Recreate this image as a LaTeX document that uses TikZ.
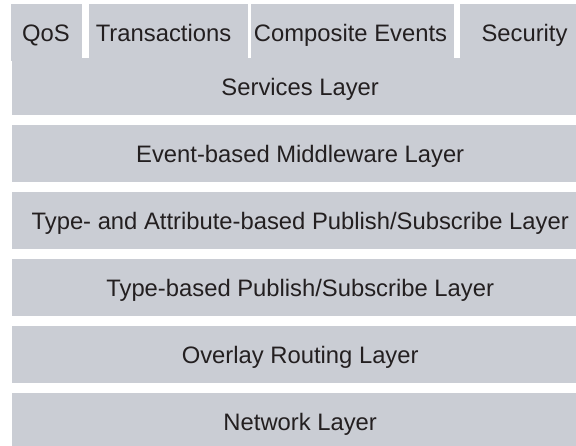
\documentclass[tikz,border=0pt]{standalone}
\usepackage{fontspec}
\setmainfont{Liberation Sans}
\definecolor{layerfill}{RGB}{202,205,212}
\definecolor{ink}{RGB}{35,31,32}
\begin{document}
\begin{tikzpicture}[x=1pt,y=-1pt,
  txt/.style={text=ink, font=\fontsize{23.8}{28}\selectfont},
  layerbox/.style={txt, rectangle, fill=layerfill, draw=none, inner sep=0pt,
    minimum width=576pt, minimum height=57pt, text height=17pt, text depth=0pt,
    anchor=north west},
  tabbox/.style={rectangle, fill=layerfill, draw=none, inner sep=0pt,
    minimum height=57pt, anchor=north west},
  tablabel/.style={txt, inner sep=0pt, anchor=base}]
\useasboundingbox (0,0) rectangle (576,445);
\clip (0,0) rectangle (576,445);
% tabs
\node[tabbox, minimum width=71pt]  (tqos)  at (11,4) {};
\node[tabbox, minimum width=159pt] (ttra)  at (89,4) {};
\node[tabbox, minimum width=203pt] (tcomp) at (251,4) {};
\node[tabbox, minimum width=128pt] (tsec)  at (460,4) {};
\node[tablabel] (lqos)  at (46,41)    {QoS};
\node[tablabel] (ltra)  at (163.5,41) {Transactions};
\node[tablabel] (lcomp) at (350.5,41) {Composite Events};
\node[tablabel] (lsec)  at (524.5,41) {Security};
% layers
\node[layerbox] (services) at (12,58)  {Services Layer};
\node[layerbox] (event)    at (12,125) {Event-based Middleware Layer};
\node[layerbox] (tapubsub) at (12,192) {Type- and Attribute-based Publish/Subscribe Layer};
\node[layerbox] (tpubsub)  at (12,259) {Type-based Publish/Subscribe Layer};
\node[layerbox] (overlay)  at (12,326) {Overlay Routing Layer};
\node[layerbox] (network)  at (12,393) {Network Layer};
\end{tikzpicture}
\end{document}
